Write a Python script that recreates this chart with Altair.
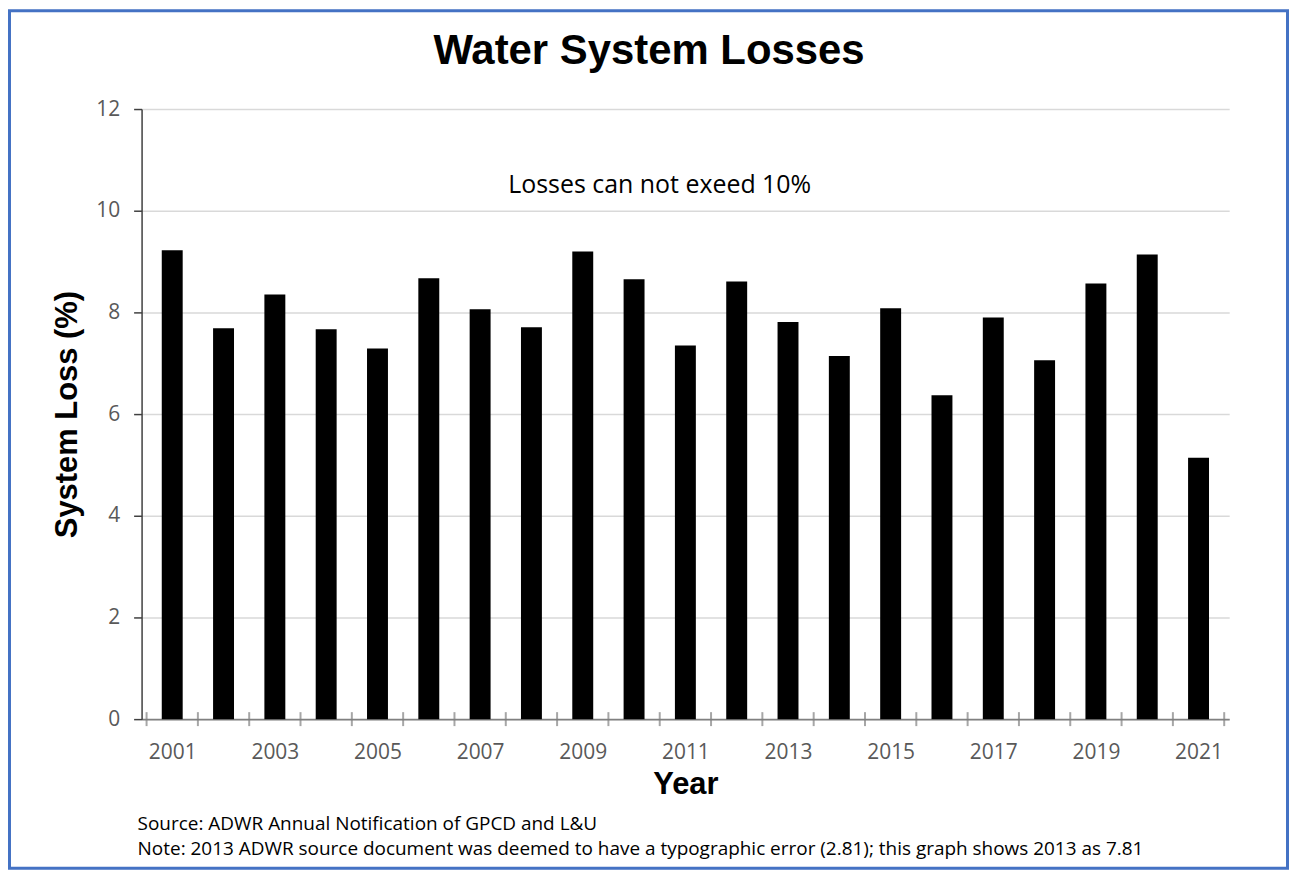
import altair as alt
import pandas as pd

years = list(range(2001, 2022))
losses = [9.22, 7.69, 8.35, 7.67, 7.29, 8.67, 8.06, 7.71, 9.20, 8.65,
          7.35, 8.61, 7.81, 7.14, 8.08, 6.37, 7.90, 7.06, 8.57, 9.14, 5.14]
label_years = [y for y in years if y % 2 == 1]
boundaries = [y - 0.5 for y in years] + [years[-1] + 0.5]

title_text = "Water System Losses"
note_text = "Losses can not exeed 10%"
note_x = [2010.5]
note_y = [10.5]
source_lines = ["Source: ADWR Annual Notification of GPCD and L&U",
                "Note: 2013 ADWR source document was deemed to have a typographic error (2.81); this graph shows 2013 as 7.81"]

W, H = 1091, 612
LABEL_FONT = "Open Sans"
BOLD_FONT = "Liberation Sans"

df = pd.DataFrame({"Year": years, "Loss": losses})
bdf = pd.DataFrame({"b": boundaries, "z": [0] * len(boundaries)})
ndf = pd.DataFrame({"x": note_x, "y": note_y, "t": [note_text]})
one = pd.DataFrame({"k": [0]})

xscale = alt.Scale(domain=[years[0] - 0.5, years[-1] + 0.5], nice=False, zero=False)
yscale = alt.Scale(domain=[0, 12], nice=False)

bars = alt.Chart(df).mark_bar(size=21, color="black").encode(
    x=alt.X("Year:Q", scale=xscale,
            axis=alt.Axis(title="Year", values=label_years, format="d",
                          grid=False, ticks=False, tickSize=0,
                          labelFontSize=21, labelFont=LABEL_FONT, labelColor="#595959",
                          labelPadding=22, domainColor="#808080", domainWidth=2,
                          titleFont=BOLD_FONT, titleFontSize=31, titleFontWeight="bold",
                          titleColor="black", titlePadding=8)),
    y=alt.Y("Loss:Q", scale=yscale,
            axis=alt.Axis(title="System Loss (%)", values=list(range(0, 13, 2)),
                          grid=True, gridColor="#d9d9d9", gridWidth=1.5,
                          tickSize=8, tickColor="#404040", tickWidth=1.5,
                          domainColor="#404040", domainWidth=1.5,
                          labelFontSize=21, labelFont=LABEL_FONT, labelColor="#595959",
                          labelPadding=14,
                          titleFont=BOLD_FONT, titleFontSize=31, titleFontWeight="bold",
                          titleColor="black", titlePadding=12)),
)

ticks = alt.Chart(bdf).mark_tick(orient="vertical", size=14, thickness=2, color="#808080").encode(
    x=alt.X("b:Q", scale=xscale),
    y=alt.Y("z:Q", scale=yscale),
)

note = alt.Chart(ndf).mark_text(font=LABEL_FONT, fontSize=25, color="black",
                                align="center", baseline="middle").encode(
    x=alt.X("x:Q", scale=xscale), y=alt.Y("y:Q", scale=yscale), text="t:N")

title = alt.Chart(one).mark_text(text=title_text, font=BOLD_FONT, fontSize=42,
                                 fontWeight="bold", color="black",
                                 align="center", baseline="middle").encode(
    x=alt.value(509), y=alt.value(-58))

src1 = alt.Chart(one).mark_text(text=source_lines[0], font=LABEL_FONT, fontSize=19,
                                color="black", align="left", baseline="middle").encode(
    x=alt.value(-4), y=alt.value(717))
src2 = alt.Chart(one).mark_text(text=source_lines[1], font=LABEL_FONT, fontSize=19,
                                color="black", align="left", baseline="middle").encode(
    x=alt.value(-4), y=alt.value(742))

border = alt.Chart(one).mark_rect(filled=False, stroke="#4472C4", strokeWidth=3).encode(
    x=alt.value(-132.5), x2=alt.value(1149.5), y=alt.value(-98.5), y2=alt.value(761.5))

chart = alt.layer(bars, ticks, note, title, src1, src2, border).properties(
    width=W, height=H, padding=0, background="white"
).configure_view(stroke=None)

chart.save("out.html", embed_options={"renderer": "svg", "actions": False})
